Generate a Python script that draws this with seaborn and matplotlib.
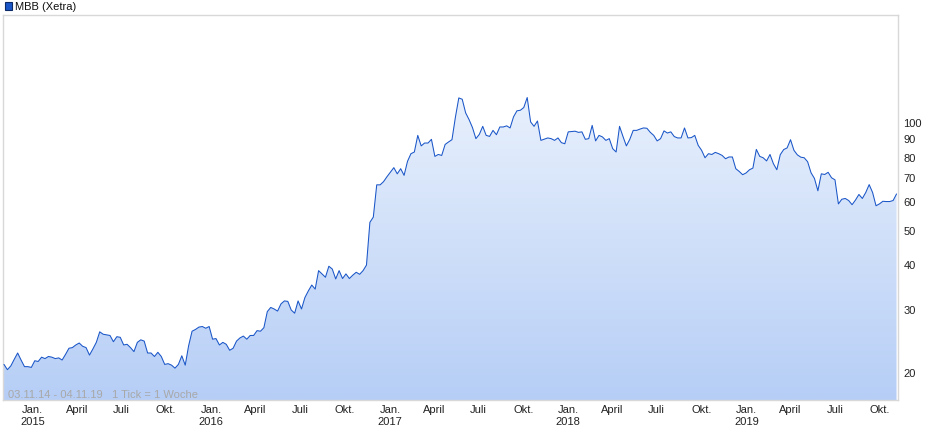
import matplotlib
matplotlib.use('Agg')
import matplotlib.pyplot as plt
import matplotlib.dates as mdates
import numpy as np
import pandas as pd
import seaborn as sns
from matplotlib.colors import LinearSegmentedColormap
from matplotlib.patches import Rectangle
from matplotlib.ticker import NullLocator

# Wochenschlusskurse MBB (Xetra), 03.11.14 - 04.11.19
start = '2014-11-03'
price = [
    21.0, 20.3, 20.8, 21.7, 22.6, 21.6, 20.7, 20.7, 20.6, 21.5,
    21.4, 22.0, 21.8, 22.1, 22.0, 21.8, 21.9, 21.6, 22.4, 23.3,
    23.4, 23.8, 24.1, 23.6, 23.4, 22.3, 23.2, 24.2, 25.9, 25.5,
    25.4, 25.3, 24.3, 25.1, 25.0, 23.8, 23.9, 23.4, 22.8, 24.2,
    24.6, 24.4, 22.6, 22.6, 22.1, 22.7, 22.1, 21.0, 21.1, 20.9,
    20.5, 21.0, 22.2, 20.9, 23.7, 26.0, 26.3, 26.7, 26.8, 26.5,
    26.8, 24.7, 24.8, 23.8, 24.2, 23.9, 23.0, 23.3, 24.4, 24.9,
    25.2, 24.7, 25.3, 25.3, 26.1, 26.0, 26.6, 29.5, 30.3, 30.0,
    29.6, 31.0, 31.6, 31.5, 29.8, 29.2, 31.6, 30.0, 32.3, 33.7,
    35.0, 34.1, 38.4, 37.6, 36.8, 39.5, 38.8, 36.4, 38.4, 36.5,
    37.6, 36.5, 37.3, 38.0, 37.5, 38.4, 39.8, 52.4, 54.2, 66.7,
    66.7, 68.1, 70.3, 72.4, 74.5, 71.6, 74.0, 70.9, 77.6, 81.5,
    82.4, 91.7, 85.7, 87.3, 87.3, 89.4, 80.1, 81.1, 80.6, 86.5,
    87.9, 89.2, 103.0, 116.7, 115.7, 106.0, 101.5, 96.4, 89.8, 92.3,
    97.2, 91.7, 91.1, 94.7, 92.1, 96.8, 96.8, 97.5, 96.2, 103.3,
    107.4, 107.8, 109.7, 117.0, 100.0, 97.2, 100.6, 88.8, 89.5, 90.2,
    89.8, 88.8, 90.2, 87.5, 86.9, 93.8, 94.0, 94.2, 93.5, 93.8,
    89.4, 89.8, 97.8, 88.5, 91.7, 90.8, 88.8, 89.8, 84.2, 82.4,
    97.2, 91.1, 85.7, 89.4, 94.7, 94.7, 95.5, 96.2, 96.0, 93.5,
    91.7, 88.5, 89.8, 94.4, 93.1, 93.8, 91.0, 90.2, 90.2, 96.2,
    90.2, 90.4, 91.7, 86.0, 83.3, 79.4, 81.5, 81.1, 82.2, 81.5,
    80.6, 78.9, 79.8, 79.8, 74.0, 72.7, 71.2, 72.0, 73.5, 74.3,
    83.8, 80.1, 79.4, 77.8, 81.1, 76.4, 73.5, 81.0, 83.7, 84.6,
    89.2, 83.3, 80.9, 79.7, 79.4, 77.4, 72.1, 69.5, 64.2, 71.6,
    71.3, 72.3, 69.8, 68.9, 59.0, 60.8, 61.1, 60.3, 58.7, 60.5,
    62.7, 61.1, 63.5, 66.8, 63.5, 58.3, 59.0, 60.0, 59.9, 59.9,
    60.3, 62.9,
]

y_ticks = [20, 30, 40, 50, 60, 70, 80, 90, 100]
x_tick_dates = ['2015-01-01', '2015-04-01', '2015-07-01', '2015-10-01',
                '2016-01-01', '2016-04-01', '2016-07-01', '2016-10-01',
                '2017-01-01', '2017-04-01', '2017-07-01', '2017-10-01',
                '2018-01-01', '2018-04-01', '2018-07-01', '2018-10-01',
                '2019-01-01', '2019-04-01', '2019-07-01', '2019-10-01']
x_tick_labels = ['Jan.\n2015', 'April', 'Juli', 'Okt.',
                 'Jan.\n2016', 'April', 'Juli', 'Okt.',
                 'Jan.\n2017', 'April', 'Juli', 'Okt.',
                 'Jan.\n2018', 'April', 'Juli', 'Okt.',
                 'Jan.\n2019', 'April', 'Juli', 'Okt.']

df = pd.DataFrame({'date': pd.date_range(start, periods=len(price), freq='7D'),
                   'price': price})

sns.set_style('white')
plt.rcParams['font.family'] = ['Liberation Sans', 'DejaVu Sans']
plt.rcParams['font.size'] = 8

fig = plt.figure(figsize=(9.4, 4.35), dpi=100)
ax = fig.add_axes([3 / 940, 34 / 435, 895 / 940, 385 / 435])

line_color = '#1a56c8'
sns.lineplot(data=df, x='date', y='price', ax=ax, color=line_color,
             linewidth=0.75, zorder=3)
ax.set_yscale('log')

# Flaeche unter der Kurve mit Verlauf
fill = ax.fill_between(df['date'], df['price'], 1, color='none', linewidth=0)
cmap = LinearSegmentedColormap.from_list('blau', ['#b6cef6', '#f5f9fe'])
grad = np.linspace(0, 1, 256).reshape(-1, 1)
im = ax.imshow(grad, extent=[0, 1, 0, 1], transform=ax.transAxes,
               origin='lower', aspect='auto', cmap=cmap, zorder=1)
im.set_clip_path(fill.get_paths()[0], transform=ax.transData)

ax.set_xlim(df['date'].iloc[0] - pd.Timedelta(days=2),
            df['date'].iloc[-1] + pd.Timedelta(days=3))
ax.set_ylim(16.7, 199)

# Achsen
ax.yaxis.tick_right()
ax.set_yticks(y_ticks)
ax.set_yticklabels([str(v) for v in y_ticks])
ax.yaxis.set_minor_locator(NullLocator())
ax.tick_params(axis='y', length=0, pad=4, labelsize=8, colors='#222222')

ax.set_xticks(pd.to_datetime(x_tick_dates))
ax.set_xticklabels(x_tick_labels)
ax.xaxis.set_minor_locator(mdates.MonthLocator())
ax.tick_params(axis='x', which='major', length=0, pad=3, labelsize=8,
               colors='#222222')
ax.tick_params(axis='x', which='minor', length=2, direction='in',
               color='#cccccc', width=0.8)
ax.set_xlabel('')
ax.set_ylabel('')

for s in ax.spines.values():
    s.set_color('#d8d8d8')
    s.set_linewidth(1)

ax.text(5 / 895, 6 / 385, '03.11.14 - 04.11.19   1 Tick = 1 Woche',
        transform=ax.transAxes, color='#a8a8a8', fontsize=8, va='center',
        ha='left', zorder=4)

# Legende oben links
fig.patches.append(Rectangle((5 / 940, 1 - 10.5 / 435), 7.5 / 940, 7.5 / 435,
                             transform=fig.transFigure, facecolor=line_color,
                             edgecolor='#0b2a66', linewidth=0.8))
fig.text(15 / 940, 1 - 6.5 / 435, 'MBB (Xetra)', fontsize=8, va='center',
         ha='left', color='#111111')

fig.savefig('out.png', dpi=100)
